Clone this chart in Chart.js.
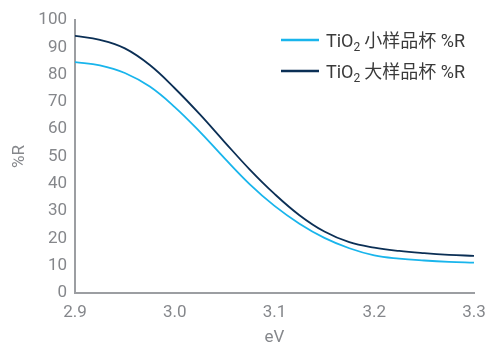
<!DOCTYPE html>
<html>
<head>
<meta charset="utf-8">
<script src="https://cdn.jsdelivr.net/npm/chart.js@4/dist/chart.umd.min.js"></script>
<style>
  html, body { margin: 0; padding: 0; background: #fff; }
  #wrap { width: 490px; height: 348px; position: relative; }
</style>
</head>
<body>
<div id="wrap"><canvas id="c"></canvas></div>
<script>
// Photon energy (eV)
const energy = [2.9, 2.925, 2.95, 2.975, 3.0, 3.025, 3.05, 3.075, 3.1, 3.125, 3.15, 3.175, 3.2, 3.225, 3.25, 3.275, 3.3];
// Reflectance, small sample cup
const smallCup = [84.6, 83.4, 80.6, 75.6, 68.1, 59.1, 49.3, 39.9, 31.9, 25.4, 20.2, 16.4, 13.8, 12.6, 11.9, 11.4, 11.1];
// Reflectance, large sample cup
const largeCup = [94.2, 92.7, 89.6, 83.5, 75.0, 65.5, 55.3, 45.3, 36.3, 28.5, 22.5, 18.6, 16.6, 15.4, 14.6, 14.0, 13.6];
const seriesFormula = ['TiO', 'TiO'];
const seriesSub = ['2', '2'];
const seriesNames = ['小样品杯 %R', '大样品杯 %R'];
const seriesColors = ['#19b5ec', '#0b2f55'];

const FONT = "Roboto, 'Noto Sans CJK SC', sans-serif";
const GREY = '#85878b';

const toPoints = ys => energy.map((x, i) => ({ x, y: ys[i] }));

// Legend drawn inside the plot, upper right; the "2" of TiO2 is set as a subscript
const innerLegend = {
  id: 'innerLegend',
  afterDraw(chart) {
    const ctx = chart.ctx;
    ctx.save();
    ctx.textBaseline = 'alphabetic';
    chart.data.datasets.forEach((ds, i) => {
      const y = 40 + i * 31;
      ctx.strokeStyle = ds.borderColor;
      ctx.lineWidth = 2.5;
      ctx.beginPath();
      ctx.moveTo(281, y);
      ctx.lineTo(319, y);
      ctx.stroke();
      ctx.fillStyle = '#3a3a3a';
      const base = y + 6.5;
      let x = 326;
      ctx.font = '18px ' + FONT;
      ctx.fillText(seriesFormula[i], x, base);
      x += ctx.measureText(seriesFormula[i]).width;
      ctx.font = '12px ' + FONT;
      ctx.fillText(seriesSub[i], x, base + 4);
      x += ctx.measureText(seriesSub[i]).width + 4;
      ctx.font = '18px ' + FONT;
      ctx.fillText(seriesNames[i], x, base);
    });
    ctx.restore();
  }
};

new Chart(document.getElementById('c'), {
  type: 'line',
  data: {
    datasets: [
      { label: seriesFormula[0] + seriesSub[0] + ' ' + seriesNames[0], data: toPoints(smallCup), borderColor: seriesColors[0], borderWidth: 1.8, pointRadius: 0, tension: 0.4, fill: false },
      { label: seriesFormula[1] + seriesSub[1] + ' ' + seriesNames[1], data: toPoints(largeCup), borderColor: seriesColors[1], borderWidth: 1.8, pointRadius: 0, tension: 0.4, fill: false }
    ]
  },
  options: {
    responsive: true,
    maintainAspectRatio: false,
    animation: false,
    layout: { padding: { top: 20, right: 16, left: 0, bottom: 0 } },
    plugins: { legend: { display: false }, tooltip: { enabled: false } },
    scales: {
      x: {
        type: 'linear',
        min: 2.9, max: 3.3,
        grid: { display: false, drawTicks: false },
        border: { color: '#9c9ea2', width: 2 },
        ticks: { stepSize: 0.1, color: GREY, font: { family: FONT, size: 17 }, padding: 10,
                 callback: v => v.toFixed(1) },
        title: { display: true, text: 'eV', color: GREY, font: { family: FONT, size: 17 }, padding: { top: 6, bottom: 0 } },
        afterFit(s) { s.height = 55; s.paddingLeft = 0; s.paddingRight = 0; }
      },
      y: {
        min: 0, max: 100,
        grid: { display: false, drawTicks: false },
        border: { color: '#9c9ea2', width: 2 },
        ticks: { stepSize: 10, color: GREY, font: { family: FONT, size: 17 }, padding: 8 },
        title: { display: true, text: '%R', color: GREY, font: { family: FONT, size: 17 }, padding: { top: 10, bottom: 4 } },
        afterFit(s) { s.width = 75; s.paddingTop = 0; s.paddingBottom = 0; }
      }
    }
  },
  plugins: [innerLegend]
});
</script>
</body>
</html>
